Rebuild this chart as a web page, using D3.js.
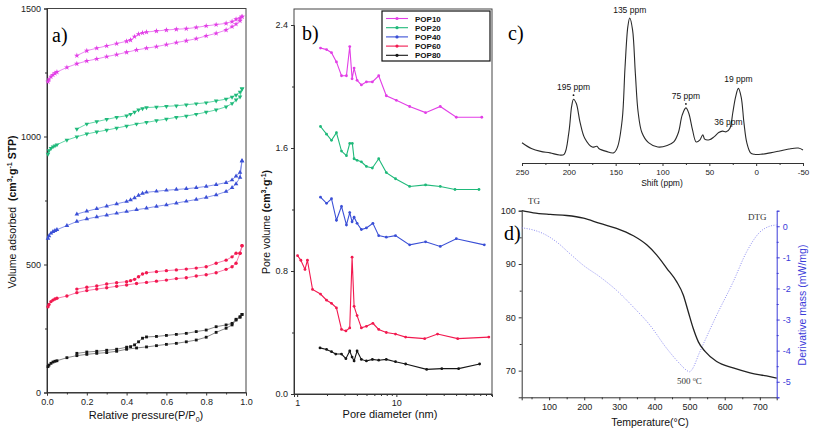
<!DOCTYPE html>
<html><head><meta charset="utf-8">
<script src="https://cdn.jsdelivr.net/npm/d3@7"></script>
<style>
body{margin:0;background:#fff;}
svg text{font-family:"Liberation Sans",Arial,sans-serif;}
.serif{font-family:"Liberation Serif","Times New Roman",serif !important;}
</style></head>
<body><svg id="c" width="813" height="433"></svg>
<script>
// ---------- DATA ----------
const seriesNames = ["POP10","POP20","POP40","POP60","POP80"];
const seriesColors = ["#e23ee6","#1fb97a","#3a4fd6","#f2194f","#161616"];
const lineColorsA = ["#ea7cf0","#52d39f","#7a88e6","#f76aa0","#7a7a7a"];

// panel a: N2 isotherms
const adsP = [0.005,0.01,0.02,0.03,0.04,0.05,0.1,0.15,0.2,0.25,0.3,0.35,0.4,0.45,0.5,0.55,0.6,0.65,0.7,0.75,0.8,0.85,0.9,0.93,0.95,0.97,0.98];
const desP = [0.98,0.97,0.95,0.93,0.9,0.85,0.8,0.75,0.7,0.65,0.6,0.55,0.5,0.48,0.46,0.44,0.42,0.4,0.35,0.3,0.25,0.2,0.15];
const adsPOP10 = [1214,1223,1234,1241,1247,1252,1270,1284,1295,1303,1312,1320,1329,1338,1345,1351,1359,1367,1374,1382,1393,1403,1416,1429,1439,1452,1468];
const desPOP10 = [1468,1462,1458,1449,1442,1437,1432,1426,1421,1419,1416,1412,1408,1405,1400,1390,1377,1372,1363,1354,1345,1335,1316];
const adsPOP20 = [931,945,954,960,964,968,986,999,1010,1018,1025,1033,1041,1049,1055,1062,1068,1075,1080,1087,1095,1104,1116,1129,1143,1155,1186];
const desPOP20 = [1186,1174,1162,1154,1146,1139,1132,1128,1124,1120,1118,1115,1113,1109,1104,1095,1087,1081,1075,1067,1058,1049,1029];
const adsPOP40 = [602,612,622,628,632,636,652,668,678,686,693,700,707,714,720,727,733,740,747,754,762,772,785,800,815,840,905];
const desPOP40 = [905,860,845,830,820,812,805,800,796,793,790,786,782,778,770,760,752,746,737,728,718,708,697];
const adsPOP60 = [335,344,355,361,365,368,377,390,398,404,409,415,420,426,430,435,439,445,448,455,460,468,481,491,505,544,573];
const desPOP60 = [573,544,544,530,517,505,491,486,482,479,476,472,468,463,452,442,437,433,429,424,416,411,404];
const adsPOP80 = [101,107,114,119,122,124,136,144,149,153,156,161,169,174,178,183,188,192,198,205,216,235,251,264,283,294,305];
const desPOP80 = [305,296,286,270,264,257,244,238,231,227,223,219,217,212,198,186,179,177,169,165,161,158,153];
const adsAll = [adsPOP10,adsPOP20,adsPOP40,adsPOP60,adsPOP80];
const desAll = [desPOP10,desPOP20,desPOP40,desPOP60,desPOP80];
const aYTicks = [0,500,1000,1500];
const aXTicks = [0,0.2,0.4,0.6,0.8,1.0];

// panel b: pore size distribution
const dPOP10 = [1.72,1.98,2.22,2.49,2.80,3.14,3.39,3.58,3.75,4.02,4.44,4.99,5.73,6.64,7.92,10,13.6,19.7,27.7,40.2,72.6];
const vPOP10 = [2.25,2.24,2.22,2.16,2.07,2.07,2.26,2.05,2.12,2.04,2.01,2.03,2.03,2.07,1.94,1.91,1.87,1.83,1.87,1.80,1.80];
const dPOP20 = [1.72,1.98,2.22,2.49,2.80,3.14,3.39,3.6,3.75,4.02,4.44,4.99,5.73,6.64,7.92,9.8,13.6,19.7,27.7,39,68];
const vPOP20 = [1.74,1.69,1.65,1.70,1.58,1.55,1.63,1.63,1.53,1.52,1.51,1.48,1.47,1.53,1.44,1.40,1.35,1.36,1.35,1.33,1.33];
const dPOP40 = [1.72,1.98,2.22,2.49,2.80,3.14,3.39,3.58,3.75,4.02,4.44,4.99,5.8,6.64,7.92,9.8,13.6,19.7,27.7,40.2,77];
const vPOP40 = [1.28,1.24,1.27,1.13,1.22,1.10,1.18,1.12,1.15,1.11,1.07,1.08,1.11,1.03,1.02,1.03,0.97,0.99,0.96,1.01,0.97];
const dPOP60 = [1.01,1.09,1.20,1.27,1.43,1.72,1.98,2.22,2.49,2.80,3.1,3.39,3.58,3.75,4.02,4.44,4.99,5.8,6.64,7.92,9.8,12.4,19.3,26,41.5,85.5];
const vPOP60 = [0.90,0.87,0.81,0.87,0.68,0.65,0.61,0.59,0.56,0.42,0.41,0.43,0.89,0.57,0.51,0.43,0.44,0.46,0.42,0.40,0.39,0.37,0.36,0.39,0.36,0.37];
const dPOP80 = [1.70,1.98,2.22,2.45,2.80,3.1,3.39,3.58,3.75,4.02,4.44,4.99,5.73,6.64,7.92,9.8,12.4,20.2,28.7,42.4,69];
const vPOP80 = [0.30,0.29,0.275,0.26,0.26,0.23,0.28,0.24,0.215,0.28,0.225,0.215,0.225,0.22,0.225,0.21,0.195,0.16,0.165,0.165,0.195];
const dAll = [dPOP10,dPOP20,dPOP40,dPOP60,dPOP80];
const vAll = [vPOP10,vPOP20,vPOP40,vPOP60,vPOP80];
const bYTicks = [0.0,0.8,1.6,2.4];

// panel c: 13C NMR
const ppm = [250,240,230,220,210,205,200,197,195,192,188,183,175,170,168,160,152,148,143,140,137,135,132,129,126,122,115,105,95,88,83,79,75,72,68,64,60,57,55,50,45,40,36,32,28,25,22,19,16,13,10,6,2,-5,-15,-25,-35,-45,-50];
const intensity = [14,10,8,7,5.5,6,21,39,44,41,28,17,11,11.5,10,8,7,11,30,66,94,100,92,62,35,21,14,11,12,14.5,21,33,38,34.5,23,14.5,16,19.5,16.5,16,18,21,22,21.5,24,34.5,45.5,51.5,45.5,27.5,14,7,6,6,7,8.3,9.7,10.3,9];
const peakLabels = ["195 ppm","135 ppm","75 ppm","36 ppm","19 ppm"];
const peakPpm = [195,135,75,36,19];
const cXTicks = [250,200,150,100,50,0,-50];

// panel d: TGA
const temp = [22,55,103,150,198,245,292,340,378,406,435,463,482,496,510,525,544,577,624,672,719,748];
const tg = [100,99.6,99.3,99.1,98.6,97.6,96.7,95.3,93.6,91.7,89.2,86.7,84.2,81.1,78.0,75.4,73.6,71.7,70.5,69.6,69.0,68.6];
const tempD = [22,55,84,122,160,198,245,292,340,387,435,472,490,500,506,529,577,624,662,700,728,748];
const dtg = [-0.05,-0.12,-0.24,-0.51,-0.89,-1.26,-1.63,-2.06,-2.6,-3.18,-3.93,-4.42,-4.62,-4.68,-4.62,-4.04,-2.86,-1.79,-0.83,-0.19,0,0.04];
const dXTicks = [100,200,300,400,500,600,700];
const dYTicks = [70,80,90,100];
const dY2Ticks = [0,-1,-2,-3,-4,-5];

// ---------- DRAW ----------
const svg = d3.select("#c");
const fs = 9;
const hy = d => String(d).replace("\u2212","-");
function styleAxis(g, color){
  g.selectAll("path,line").attr("stroke", color||"#333").attr("stroke-width",1);
  g.selectAll("text").attr("font-size",fs).attr("fill",color||"#222");
}
const markers = [d3.symbolStar, d3.symbolTriangle, d3.symbolTriangle, d3.symbolCircle, d3.symbolSquare];
const markRot = [0,180,0,0,0];
const markSize = [10,9,9,9,8];

// ===== Panel a =====
const ax = d3.scaleLinear().domain([0,1]).range([47,246]);
const ay = d3.scaleLinear().domain([0,1500]).range([392.5,8.5]);
const ga = svg.append("g");
ga.append("rect").attr("x",47).attr("y",8.5).attr("width",199).attr("height",384).attr("fill","none").attr("stroke","#444");
styleAxis(ga.append("g").attr("transform","translate(0,392.5)").call(d3.axisBottom(ax).tickValues(aXTicks).tickFormat(d3.format(".1f")).tickSize(3)));
ga.append("g").attr("transform","translate(0,392.5)").call(d3.axisBottom(ax).tickValues(d3.range(0.1,1,0.2)).tickFormat("").tickSize(2)).call(g=>{g.select(".domain").remove();styleAxis(g);});
styleAxis(ga.append("g").attr("transform","translate(47,0)").call(d3.axisLeft(ay).tickValues(aYTicks).tickFormat(d3.format("d")).tickSize(3)));
ga.append("g").attr("transform","translate(47,0)").call(d3.axisLeft(ay).tickValues([250,750,1250]).tickFormat("").tickSize(2)).call(g=>{g.select(".domain").remove();styleAxis(g);});
const lineA = d3.line().x(d=>ax(d[0])).y(d=>ay(d[1]));
seriesNames.forEach((n,i)=>{
  const ads = adsP.map((p,k)=>[p,adsAll[i][k]]);
  const des = desP.map((p,k)=>[p,desAll[i][k]]);
  [ads,des].forEach(br=>{
    ga.append("path").datum(br).attr("d",lineA).attr("fill","none").attr("stroke",lineColorsA[i]).attr("stroke-width",0.9);
    ga.selectAll(null).data(br).enter().append("path")
      .attr("d",d3.symbol().type(markers[i]).size(markSize[i]))
      .attr("transform",d=>`translate(${ax(d[0])},${ay(d[1])}) rotate(${markRot[i]})`)
      .attr("fill",seriesColors[i]);
  });
});
ga.append("text").attr("class","serif").attr("x",52).attr("y",42).attr("font-size",20).text("a)");
ga.append("text").attr("x",146).attr("y",419).attr("text-anchor","middle").attr("font-size",11).attr("fill","#111")
  .html('Relative pressure(P/P<tspan dy="3" font-size="7">0</tspan><tspan dy="-3">)</tspan>');
ga.append("text").attr("transform","translate(16,212) rotate(-90)").attr("text-anchor","middle").attr("font-size",10.5).attr("fill","#111")
  .html('Volume adsorbed&#160;&#160;<tspan font-weight="bold">(cm<tspan dy="-4" font-size="7">3</tspan><tspan dy="4">·g</tspan><tspan dy="-4" font-size="7">-1</tspan><tspan dy="4"> STP)</tspan></tspan>');

// ===== Panel b =====
const bx = d3.scaleLog().domain([0.93,92]).range([294,492]);
const by = d3.scaleLinear().domain([0,2.4]).range([394,25]);
const gb = svg.append("g");
gb.append("rect").attr("x",294).attr("y",9).attr("width",198).attr("height",385).attr("fill","none").attr("stroke","#444");
styleAxis(gb.append("g").attr("transform","translate(0,394)").call(d3.axisBottom(bx).tickValues([1,10]).tickFormat(d3.format("d")).tickSize(3)));
gb.append("g").attr("transform","translate(0,394)").call(d3.axisBottom(bx).tickValues([2,3,4,5,6,7,8,9,20,30,40,50,60,70,80,90]).tickFormat("").tickSize(2)).call(g=>{g.select(".domain").remove();styleAxis(g);});
styleAxis(gb.append("g").attr("transform","translate(294,0)").call(d3.axisLeft(by).tickValues(bYTicks).tickFormat(d3.format(".1f")).tickSize(3)));
gb.append("g").attr("transform","translate(294,0)").call(d3.axisLeft(by).tickValues([0.4,1.2,2.0]).tickFormat("").tickSize(2)).call(g=>{g.select(".domain").remove();styleAxis(g);});
const lineB = d3.line().x(d=>bx(d[0])).y(d=>by(d[1]));
seriesNames.forEach((n,i)=>{
  const pts = dAll[i].map((d,k)=>[d,vAll[i][k]]);
  gb.append("path").datum(pts).attr("d",lineB).attr("fill","none").attr("stroke",seriesColors[i]).attr("stroke-width",1.1);
  gb.selectAll(null).data(pts).enter().append("circle").attr("cx",d=>bx(d[0])).attr("cy",d=>by(d[1])).attr("r",1.4).attr("fill",seriesColors[i]);
});
gb.append("text").attr("class","serif").attr("x",302).attr("y",40).attr("font-size",20).text("b)");
gb.append("text").attr("x",390).attr("y",418).attr("text-anchor","middle").attr("font-size",11).attr("fill","#111").text("Pore diameter (nm)");
gb.append("text").attr("transform","translate(270,222) rotate(-90)").attr("text-anchor","middle").attr("font-size",10.5).attr("fill","#111")
  .html('Pore volume <tspan font-weight="bold">(cm<tspan dy="-4" font-size="7">3</tspan><tspan dy="4">·g</tspan><tspan dy="-4" font-size="7">-1</tspan><tspan dy="4">)</tspan></tspan>');
// legend
const lg = gb.append("g");
lg.append("rect").attr("x",382).attr("y",11).attr("width",108).attr("height",50).attr("fill","#fff").attr("stroke","#111").attr("stroke-width",1.2);
seriesNames.forEach((n,i)=>{
  const yy = 18.5 + i*9.2;
  lg.append("line").attr("x1",386).attr("x2",408).attr("y1",yy).attr("y2",yy).attr("stroke",seriesColors[i]).attr("stroke-width",1.1);
  lg.append("circle").attr("cx",397).attr("cy",yy).attr("r",1.6).attr("fill",seriesColors[i]);
  lg.append("text").attr("x",415).attr("y",yy+3).attr("font-size",8).attr("font-weight","bold").attr("fill","#111").text(n);
});

// ===== Panel c =====
const cx = d3.scaleLinear().domain([250,-50]).range([522,803]);
const cy = d3.scaleLinear().domain([0,100]).range([163,18]);
const gc = svg.append("g");
const cAxis = gc.append("g").attr("transform","translate(0,163)").call(d3.axisBottom(cx).tickValues(cXTicks).tickFormat(d=>String(d)).tickSize(3));
styleAxis(cAxis); cAxis.selectAll("text").attr("font-size",8);
gc.append("g").attr("transform","translate(0,163)").call(d3.axisBottom(cx).tickValues([225,175,125,75,25,-25]).tickFormat("").tickSize(2)).call(g=>{g.select(".domain").remove();styleAxis(g);});
gc.append("path").datum(ppm.map((p,k)=>[p,intensity[k]])).attr("d",d3.line().x(d=>cx(d[0])).y(d=>cy(d[1])).curve(d3.curveCatmullRom.alpha(0.5)))
  .attr("fill","none").attr("stroke","#2a2a2a").attr("stroke-width",1.1);
const labOff = [[0,-9],[0,-5],[0,-9],[6,-6],[0,-6]];
peakLabels.forEach((t,i)=>{
  const k = ppm.indexOf(peakPpm[i]);
  gc.append("text").attr("x",cx(peakPpm[i])+labOff[i][0]).attr("y",cy(intensity[k])+labOff[i][1]).attr("text-anchor","middle").attr("font-size",8.5).attr("fill","#111").text(t);
  if(i===0||i===2) gc.append("circle").attr("cx",cx(peakPpm[i])).attr("cy",cy(intensity[k])-4).attr("r",0.9).attr("fill","#111");
});
gc.append("text").attr("class","serif").attr("x",508).attr("y",40).attr("font-size",20).text("c)");
gc.append("text").attr("x",662).attr("y",186).attr("text-anchor","middle").attr("font-size",8.5).attr("fill","#111").text("Shift (ppm)");

// ===== Panel d =====
const dx = d3.scaleLinear().domain([22,748]).range([521.7,776.7]);
const dy = d3.scaleLinear().domain([65,100]).range([397.3,210.7]);
const dy2 = d3.scaleLinear().domain([-5.5,0.5]).range([397.3,210.7]);
const gd = svg.append("g");
styleAxis(gd.append("g").attr("transform","translate(0,397.3)").call(d3.axisBottom(dx).tickValues(dXTicks).tickSize(3)));
gd.append("g").attr("transform","translate(0,397.3)").call(d3.axisBottom(dx).tickValues([50,150,250,350,450,550,650]).tickFormat("").tickSize(2)).call(g=>{g.select(".domain").remove();styleAxis(g);});
styleAxis(gd.append("g").attr("transform","translate(521.7,0)").call(d3.axisLeft(dy).tickValues(dYTicks).tickSize(3)));
gd.append("g").attr("transform","translate(521.7,0)").call(d3.axisLeft(dy).tickValues([75,85,95]).tickFormat("").tickSize(2)).call(g=>{g.select(".domain").remove();styleAxis(g);});
styleAxis(gd.append("g").attr("transform","translate(776.7,0)").call(d3.axisRight(dy2).tickValues(dY2Ticks).tickFormat(d=>String(d)).tickSize(3)),"#3b3bd9");
gd.append("g").attr("transform","translate(776.7,0)").call(d3.axisRight(dy2).tickValues([0.5,-0.5,-1.5,-2.5,-3.5,-4.5,-5.5]).tickFormat("").tickSize(2)).call(g=>{g.select(".domain").remove();styleAxis(g,"#3b3bd9");});
gd.append("path").datum(tempD.map((t,k)=>[t,dtg[k]])).attr("d",d3.line().x(d=>dx(d[0])).y(d=>dy2(d[1])).curve(d3.curveMonotoneX))
  .attr("fill","none").attr("stroke","#8d8df2").attr("stroke-width",1).attr("stroke-dasharray","1,1.5");
gd.append("path").datum(temp.map((t,k)=>[t,tg[k]])).attr("d",d3.line().x(d=>dx(d[0])).y(d=>dy(d[1])).curve(d3.curveMonotoneX))
  .attr("fill","none").attr("stroke","#222").attr("stroke-width",1.3);
gd.append("text").attr("class","serif").attr("x",528).attr("y",204).attr("font-size",9).attr("fill","#333").text("TG");
gd.append("text").attr("class","serif").attr("x",748).attr("y",220).attr("font-size",9).attr("fill","#333").text("DTG");
gd.append("text").attr("class","serif").attr("x",677).attr("y",384).attr("font-size",9).attr("fill","#333").html('500 <tspan dy="-3" font-size="6">o</tspan><tspan dy="3">C</tspan>');
gd.append("text").attr("class","serif").attr("x",504).attr("y",240).attr("font-size",20).text("d)");
gd.append("text").attr("x",650).attr("y",426).attr("text-anchor","middle").attr("font-size",10.5).attr("fill","#111").text("Temperature(°C)");
gd.append("text").attr("transform","translate(806,305) rotate(-90)").attr("text-anchor","middle").attr("font-size",10.5).attr("fill","#3b3bd9").text("Derivative mass (mW/mg)");
</script></body></html>
